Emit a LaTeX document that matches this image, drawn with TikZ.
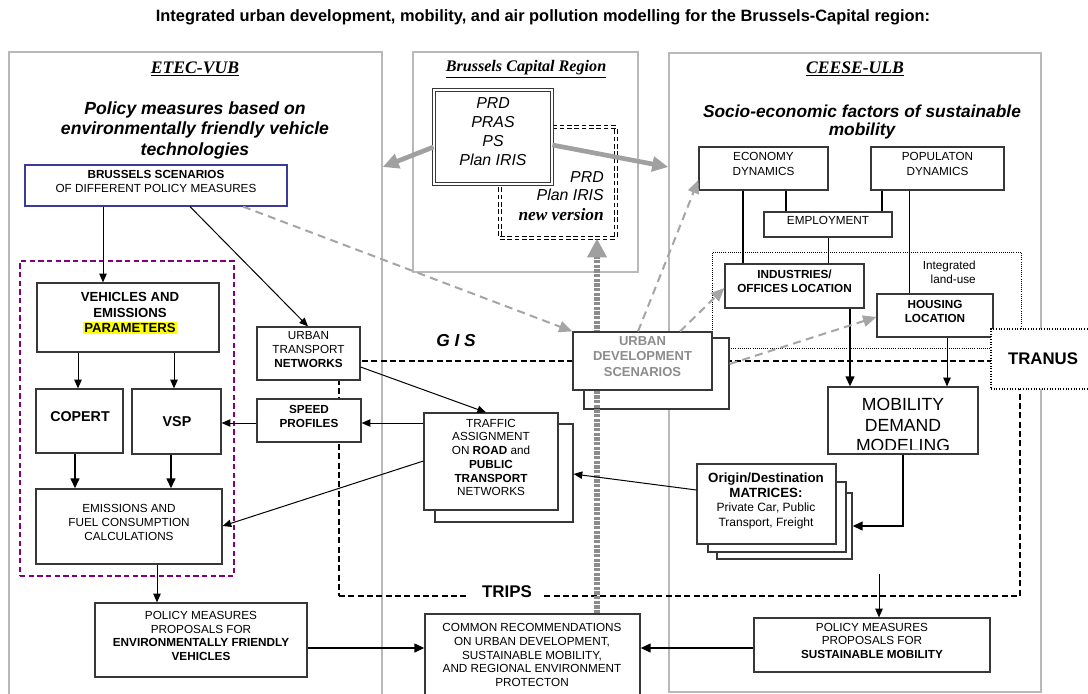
\documentclass[tikz,border=0pt]{standalone}
\usepackage{fontspec}
\setmainfont{Liberation Sans}
\newfontfamily\timesf{Liberation Serif}
\usetikzlibrary{arrows.meta,fit}
\definecolor{panelgray}{RGB}{185,185,185}
\definecolor{boxline}{RGB}{55,55,55}
\definecolor{navyline}{RGB}{60,60,150}
\definecolor{purp}{RGB}{128,0,128}
\definecolor{dashgray}{RGB}{165,165,165}
\definecolor{udtext}{RGB}{140,140,140}
\definecolor{bigarrgray}{RGB}{160,160,160}
\definecolor{dotgray}{RGB}{140,140,140}
\definecolor{hl}{RGB}{255,255,0}
\newcommand{\fs}[2]{\fontsize{#1}{#2}\selectfont}
\begin{document}
\begin{tikzpicture}[x=0.75pt,y=-0.75pt,
 panel/.style={draw=panelgray,line width=1.1pt,inner sep=0pt},
 box/.style={draw=boxline,line width=0.9pt,fill=white,inner sep=0pt,align=center,font=\fs{8.8}{10.3}},
 txt/.style={inner sep=0pt,align=center},
 arr/.style={draw=black,line width=0.75pt,-{Triangle[length=6.5pt,width=5.5pt]}},
 harr/.style={draw=black,line width=1.5pt,-{Triangle[length=7.5pt,width=6.5pt]}},
 hline/.style={draw=black,line width=1.5pt},
 tline/.style={draw=black,line width=0.75pt},
 garr/.style={draw=dashgray,line width=1.5pt,dash pattern=on 6pt off 4pt,-{Triangle[length=10pt,width=8.5pt]}},
 bigarr/.style={draw=bigarrgray,line width=3.5pt,-{Triangle[length=12pt,width=11pt]}},
 dotarr/.style={draw=dotgray,line width=4.5pt,dash pattern=on 2.5pt off 1pt,-{Triangle[length=14pt,width=14pt,color=bigarrgray]}},
 headserif/.style={txt,font=\timesf\bfseries\itshape\fs{13.2}{15}},
 subhead/.style={txt,font=\bfseries\itshape\fs{13.2}{15.4}},
]
\useasboundingbox (0,0) rectangle (1088,693);
\fill[white] (0,0) rectangle (1088,693);

\node[txt,font=\bfseries\fs{12.3}{14}] (title) at (543,17) {Integrated urban development, mobility, and air pollution modelling for the Brussels-Capital region:};

% panels
\node[panel,fit={(9,52)(382,696)}] (pl) {};
\node[panel,fit={(413,52)(638,272)}] (pmid) {};
\node[panel,fit={(669,53)(1041,692)}] (pr) {};

\node[headserif] (etec) at (195,69) {\underline{ETEC-VUB}};
\node[headserif,font=\timesf\bfseries\itshape\fs{12.1}{14}] (bcr) at (526,69) {\underline{Brussels Capital Region}};
\node[headserif] (ceese) at (855,69) {\underline{CEESE-ULB}};
\node[subhead] (pmh) at (195,130) {Policy measures based on\\environmentally friendly vehicle\\technologies};
\node[subhead,font=\bfseries\itshape\fs{13}{13.6}] (seh) at (862,122) {Socio-economic factors of sustainable\\mobility};

% dashed regions
\node[draw=black,line width=1.2pt,dash pattern=on 4.5pt off 2.5pt,inner sep=0pt,fit={(339,361)(1020,596)}] (tripsbox) {};
\node[draw=black,line width=0.6pt,dash pattern=on 0.6pt off 1pt,inner sep=0pt,fit={(712,252)(1021,348)}] (landuse) {};
\node[txt,anchor=east,align=right,font=\fs{8.8}{10.5}] (landuseT) at (976,272) {Integrated\\land-use};

% left panel boxes
\node[box,draw=navyline,fit={(25,165)(287,206)}] (bs) {\textbf{BRUSSELS SCENARIOS}\\OF DIFFERENT POLICY MEASURES};
\node[draw=purp,line width=1.1pt,dash pattern=on 4pt off 2.5pt,inner sep=0pt,fit={(20,261)(234,576)}] (pz) {};
\node[box,fit={(37,283)(219,352)}] (veh) {};
\node[txt,font=\bfseries\fs{9.9}{11.6}] (vehT) at (130,313) {VEHICLES AND\\EMISSIONS\\{\setlength{\fboxsep}{0.8pt}\colorbox{hl}{PARAMETERS}}};
\node[box,fit={(36,389)(123,453)}] (cop) {};
\node[txt,font=\bfseries\fs{10.7}{12}] (copT) at (80,417) {COPERT};
\node[box,fit={(132,389)(221,454)}] (vsp) {};
\node[txt,font=\bfseries\fs{10.7}{12}] (vspT) at (177,422) {VSP};
\node[box,fit={(36,489)(222,564)}] (emi) {EMISSIONS AND\\FUEL CONSUMPTION\\CALCULATIONS};
\node[box,fit={(95,603)(307,677)}] (polL) {POLICY MEASURES\\PROPOSALS FOR\\\textbf{ENVIRONMENTALLY FRIENDLY}\\\textbf{VEHICLES}};
\node[box,fit={(257,327)(360,380)}] (ut) {URBAN\\TRANSPORT\\\textbf{NETWORKS}};
\node[box,fit={(257,399)(361,442)}] (sp) {\textbf{SPEED}\\\textbf{PROFILES}};
\node[box,fit={(435,424)(573,522)}] (tfb) {};
\node[box,fit={(424,413)(558,510)}] (tf) {TRAFFIC\\ASSIGNMENT\\ON \textbf{ROAD} and\\\textbf{PUBLIC}\\\textbf{TRANSPORT}\\NETWORKS};

% middle
\node[draw=black,line width=0.9pt,double=white,double distance=1pt,dash pattern=on 3.5pt off 2pt,inner sep=0pt,fit={(500,127)(616,238)}] (nv) {};
\node[txt,anchor=east,align=right,font=\itshape\fs{11.9}{13.6}] (nvT) at (604,196) {PRD\\Plan IRIS\\[1pt]{\timesf\bfseries\itshape\fs{13}{14}new version}};
\node[draw=boxline,line width=0.6pt,double=white,double distance=1.2pt,fill=white,inner sep=0pt,align=center,font=\itshape\fs{11.9}{14.3},fit={(434,90)(552,184)}] (prd) {PRD\\PRAS\\PS\\Plan IRIS};

% right panel
\node[box,font=\fs{8.8}{11.2},fit={(699,147)(828,190)}] (eco) {ECONOMY\\DYNAMICS};
\node[box,font=\fs{8.8}{11.2},fit={(871,147)(1004,190)}] (pop) {POPULATON\\DYNAMICS};
\node[box,fit={(764,212)(892,237)}] (emp) {EMPLOYMENT};
\node[box,font=\bfseries\fs{8.8}{10.5},fit={(725,264)(864,308)}] (ind) {INDUSTRIES/\\OFFICES LOCATION};
\node[box,font=\bfseries\fs{8.8}{10.5},fit={(877,294)(993,337)}] (hou) {HOUSING\\LOCATION};
\node[draw=black,line width=0.8pt,dash pattern=on 0.8pt off 1.2pt,fill=white,inner sep=0pt,fit={(991,329)(1100,389)}] (tranus) {};
\node[txt,font=\bfseries\fs{12.6}{14}] (tranusT) at (1043,359) {TRANUS};
\node[box,fit={(828,387)(978,454)}] (mob) {};
\begin{scope}
\clip (828,387) rectangle (978,449);
\node[txt,font=\fs{13.2}{15.4}] (mobT) at (903,425) {MOBILITY\\DEMAND\\MODELING};
\end{scope}
\node[box,fit={(717,493)(852,559)}] (odc) {};
\node[box,fit={(708,482)(846,552)}] (odb) {};
\node[box,fit={(697,464)(836,544)}] (oda) {};
\node[txt,font=\bfseries\fs{10}{11.2}] (odT) at (766,501) {Origin/Destination\\MATRICES:\\[-0.5pt]{\mdseries\fs{9}{9.8}Private Car, Public}\\{\mdseries\fs{9}{9.8}Transport, Freight}};
\node[box,fit={(754,618)(990,672)}] (polR) {POLICY MEASURES\\PROPOSALS FOR\\\textbf{SUSTAINABLE MOBILITY}};
\node[box,fit={(425,614)(640,702)}] (com) {};
\node[txt,font=\fs{8.8}{10.3}] (comT) at (532,655) {COMMON RECOMMENDATIONS\\ON URBAN DEVELOPMENT,\\SUSTAINABLE MOBILITY,\\AND REGIONAL ENVIRONMENT\\PROTECTON};

% urban development scenarios stack + dotted column
\node[box,fit={(584,338)(729,409)}] (udb) {};
\draw[dotarr] (com.north -| 597,0) -- (nv.south -| 597,0);
\node[box,font=\bfseries\fs{9.75}{11.6},text=udtext,fit={(573,332)(712,390)}] (udf) {URBAN\\DEVELOPMENT\\SCENARIOS};

% labels on the dashed frame
\node[txt,font=\bfseries\itshape\fs{13}{15}] (gis) at (456,341) {G I S};
\node[txt,fill=white,inner xsep=9pt,inner ysep=2pt,font=\bfseries\fs{12.7}{14}] (trips) at (507,592) {TRIPS};

% connectors left
\draw[arr] (bs.south -| 103,0) -- (veh.north -| 103,0);
\draw[arr] (bs.south -| 190,0) -- (ut.north -| 308,0);
\draw[arr] (veh.south -| 78,0) -- (cop.north -| 78,0);
\draw[arr] (veh.south -| 174,0) -- (vsp.north -| 174,0);
\draw[harr] (cop.south -| 75,0) -- (emi.north -| 75,0);
\draw[harr] (vsp.south -| 171,0) -- (emi.north -| 171,0);
\draw[arr] (emi.south -| 157,0) -- (polL.north -| 157,0);
\draw[harr] (polL.east |- 0,648) -- (com.west |- 0,648);
\draw[harr] (polR.west |- 0,648) -- (com.east |- 0,648);
\draw[arr] (sp.west |- 0,423) -- (vsp.east |- 0,423);
\draw[arr] (tf.west |- 0,423) -- (sp.east |- 0,423);
\draw[arr] (tf.west |- 0,461) -- (emi.east |- 0,526);
\draw[arr] (ut.east |- 0,367) -- (tf.north -| 486,0);
\draw[arr] (oda.west |- 0,490) -- (tfb.east |- 0,474);

% connectors right
\draw[harr] (mob.south -| 903,0) |- (odc.east |- 0,526);
\draw[harr] (ind.south -| 850,0) -- (mob.north -| 850,0);
\draw[arr] (hou.south -| 947,0) -- (mob.north -| 947,0);
\draw[hline] (eco.south -| 743,0) -- (ind.north -| 743,0);
\draw[hline] (eco.south -| 786,0) -- (emp.north -| 786,0);
\draw[hline] (pop.south -| 882,0) -- (emp.north -| 882,0);
\draw[tline] (pop.south -| 909,0) -- (hou.north -| 909,0);
\draw[tline] (emp.south -| 828,0) -- (ind.north -| 828,0);
\coordinate (odx) at (879,574);
\draw[arr] (odx) -- (polR.north -| 879,0);

% gray arrows
\draw[bigarr] (prd.west |- 0,147) -- (pl.east |- 0,167);
\draw[bigarr] (prd.east |- 0,145) -- (pr.west |- 0,167);
\draw[garr] (bs.south -| 243,0) -- (udf.north west);
\draw[garr] (udf.north -| 638,0) -- (eco.west |- 0,180);
\draw[garr] (udf.north -| 680,0) -- (ind.west |- 0,288);
\draw[garr] (udb.east |- 0,364) -- (hou.west |- 0,317);
\end{tikzpicture}
\end{document}
